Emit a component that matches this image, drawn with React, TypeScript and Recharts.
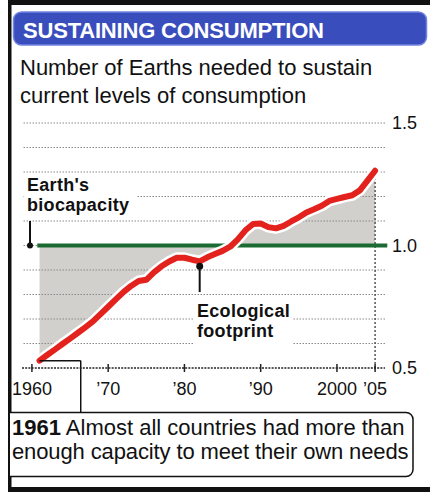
import React from 'react';
import { ComposedChart, Line, Area, XAxis, YAxis, ReferenceLine, ReferenceDot } from 'recharts';

const years = [
  1961, 1962, 1963, 1964, 1965, 1966, 1967, 1968, 1969, 1970,
  1971, 1972, 1973, 1974, 1975, 1976, 1977, 1978, 1979, 1980,
  1981, 1982, 1983, 1984, 1985, 1986, 1987, 1988, 1989, 1990,
  1991, 1992, 1993, 1994, 1995, 1996, 1997, 1998, 1999, 2000,
  2001, 2002, 2003, 2004, 2005,
];
const footprint = [
  0.53, 0.553, 0.575, 0.598, 0.62, 0.643, 0.666, 0.69, 0.72, 0.75,
  0.78, 0.81, 0.835, 0.855, 0.86, 0.89, 0.915, 0.935, 0.95, 0.95,
  0.942, 0.935, 0.952, 0.965, 0.978, 0.995, 1.025, 1.062, 1.088, 1.09,
  1.075, 1.07, 1.08, 1.098, 1.115, 1.135, 1.148, 1.162, 1.182, 1.19,
  1.198, 1.205, 1.225, 1.265, 1.305,
];
const biocapacity = 1.0;
const xTicks = [1960, 1970, 1980, 1990, 2000, 2005];
const xTickLabels = ['1960', '\u201970', '\u201980', '\u201990', '2000', '\u201905'];
const yTicks = [0.5, 1.0, 1.5];
const gridValues = [0.6, 0.7, 0.8, 0.9, 1.0, 1.1, 1.2, 1.3, 1.4, 1.5];
const xDomain = [1958.7, 2006.3];
const yDomain = [0.5, 1.5];

// annotation anchors, in data units
const bioPointerYear = 1959.75;
const bioPointerTop = 1.1;
const bioLineStart = 1960.7;
const bioLineEnd = 2006.6;
const footPointerYear = 1982;
const footPointerDot = 0.915;
const footPointerEnd = 0.81;
const noteElbowYear = 1966.4;
const noteBottom = 0.32;
const lastYearGuideTop = 1.27;

const data = years.map((year, i) => ({
  year,
  footprint: footprint[i],
  band: [biocapacity, footprint[i]],
}));

const FONT = '"Liberation Sans", Arial, Helvetica, sans-serif';

const XTick = (props: any) => {
  const { x, y, payload } = props;
  const i = xTicks.indexOf(payload.value);
  return (
    <g>
      <line x1={x} x2={x} y1={y - 4} y2={y + 4} stroke="#222" strokeWidth={1.5} />
      <text x={x} y={y + 27} textAnchor="middle" fontSize={18} fontFamily={FONT} fill="#111">
        {xTickLabels[i]}
      </text>
    </g>
  );
};

export default function App() {
  const W = 430;
  const H = 492;
  return (
    <div style={{ position: 'absolute', left: 0, top: 0, width: W, height: H, background: '#fff', overflow: 'hidden' }}>
      <svg width={W} height={H} style={{ position: 'absolute', left: 0, top: 0 }} fontFamily={FONT}>
        <rect x={0} y={0} width={W} height={H} fill="#fff" />
        <rect x={8} y={0} width={422} height={5} fill="#111" />
        <rect x={8} y={0} width={3.5} height={H} fill="#111" />
        <rect x={8} y={487} width={422} height={5} fill="#111" />
        <rect x={13.5} y={12} width={413} height={33} rx={8} fill="#3a4dbd" stroke="#7184e0" strokeWidth={1.5} />
        <text x={23} y={37.5} fill="#fff" fontSize={22} fontWeight="bold" letterSpacing={-0.2}>
          SUSTAINING CONSUMPTION
        </text>
        <text fill="#111" fontSize={22}>
          <tspan x={20} y={75}>Number of Earths needed to sustain</tspan>
          <tspan x={20} y={103}>current levels of consumption</tspan>
        </text>
        <path
          d="M 10 412.5 H 406 A 7 7 0 0 1 413 419.5 V 469.5 A 7 7 0 0 1 406 476.5 H 10"
          fill="#fff"
          stroke="#111"
          strokeWidth={1.5}
        />
        <text fill="#111" fontSize={22}>
          <tspan x={12} y={435} fontWeight="bold">1961</tspan>
          <tspan> Almost all countries had more than</tspan>
          <tspan x={12} y={459} letterSpacing={-0.12}>enough capacity to meet their own needs</tspan>
        </text>
      </svg>

      <div style={{ position: 'absolute', left: 0, top: 0 }}>
        <ComposedChart width={W} height={H} data={data} margin={{ top: 123, right: 5, bottom: 94, left: 22 }}>
          <XAxis
            type="number"
            dataKey="year"
            domain={xDomain}
            ticks={xTicks}
            interval={0}
            allowDataOverflow
            height={30}
            tickSize={0}
            tickMargin={0}
            tickLine={false}
            tick={<XTick />}
            axisLine={{ stroke: '#222', strokeWidth: 1.5, strokeDasharray: '2 1.2' }}
          />
          <YAxis
            orientation="right"
            type="number"
            domain={yDomain}
            ticks={yTicks}
            interval={0}
            allowDataOverflow
            width={40}
            axisLine={false}
            tickLine={false}
            tickSize={0}
            tickMargin={7}
            tick={{ fontSize: 18, fill: '#111', fontFamily: FONT }}
            tickFormatter={(v: number) => v.toFixed(1)}
          />
          {gridValues.map((v) => (
            <ReferenceLine key={v} y={v} stroke="#8a8a8a" strokeWidth={1} strokeDasharray="1.5 1.5" />
          ))}
          <Area dataKey="band" fill="#c9c8c3" fillOpacity={0.85} stroke="none" isAnimationActive={false} />
          <ReferenceLine
            segment={[{ x: 2005, y: 0.5 }, { x: 2005, y: lastYearGuideTop }]}
            stroke="#555"
            strokeWidth={1.5}
            strokeDasharray="2 2"
          />
          <ReferenceLine
            segment={[{ x: bioLineStart, y: biocapacity }, { x: bioLineEnd, y: biocapacity }]}
            stroke="#1b6a32"
            strokeWidth={4}
            ifOverflow="visible"
          />
          <Line
            dataKey="footprint"
            stroke="#fff"
            strokeWidth={11}
            dot={false}
            isAnimationActive={false}
            strokeLinecap="round"
            strokeLinejoin="round"
          />
          <Line
            dataKey="footprint"
            stroke="#e3211d"
            strokeWidth={6}
            dot={false}
            isAnimationActive={false}
            strokeLinecap="round"
            strokeLinejoin="round"
          />
          <ReferenceLine
            segment={[{ x: bioPointerYear, y: biocapacity }, { x: bioPointerYear, y: bioPointerTop }]}
            stroke="#111"
            strokeWidth={2}
            ifOverflow="visible"
          />
          <ReferenceDot x={bioPointerYear} y={biocapacity} r={3} fill="#111" stroke="none" ifOverflow="visible" />
          <ReferenceLine
            segment={[{ x: footPointerYear, y: footPointerDot }, { x: footPointerYear, y: footPointerEnd }]}
            stroke="#111"
            strokeWidth={2}
            ifOverflow="visible"
          />
          <ReferenceDot x={footPointerYear} y={footPointerDot} r={3.5} fill="#111" stroke="none" ifOverflow="visible" />
          <ReferenceLine
            segment={[{ x: years[0], y: footprint[0] }, { x: noteElbowYear, y: footprint[0] }]}
            stroke="#111"
            strokeWidth={1.5}
            ifOverflow="visible"
          />
          <ReferenceLine
            segment={[{ x: noteElbowYear, y: footprint[0] }, { x: noteElbowYear, y: noteBottom }]}
            stroke="#111"
            strokeWidth={1.5}
            ifOverflow="visible"
          />
        </ComposedChart>
      </div>

      <svg width={W} height={H} style={{ position: 'absolute', left: 0, top: 0, pointerEvents: 'none' }} fontFamily={FONT}>
        <rect x={24} y={173} width={112} height={43} fill="#fff" />
        <text fill="#111" fontSize={18} fontWeight="bold" letterSpacing={0.3}>
          <tspan x={27} y={190.5}>Earth's</tspan>
          <tspan x={27} y={210.5}>biocapacity</tspan>
        </text>
        <rect x={193} y={300} width={100} height={46} fill="#fff" />
        <text fill="#111" fontSize={18} fontWeight="bold" letterSpacing={0.3}>
          <tspan x={197} y={317}>Ecological</tspan>
          <tspan x={197} y={337}>footprint</tspan>
        </text>
      </svg>
    </div>
  );
}
